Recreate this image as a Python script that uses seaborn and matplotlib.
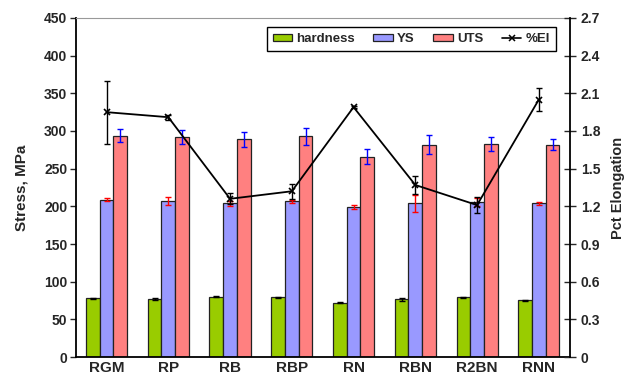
import numpy as np
import pandas as pd
import matplotlib
matplotlib.use("Agg")
import matplotlib.pyplot as plt
import seaborn as sns
from matplotlib.lines import Line2D
from matplotlib.patches import Patch

# Alloy designations
alloys = ["RGM", "RP", "RB", "RBP", "RN", "RBN", "R2BN", "RNN"]

# Mechanical properties (stress axis)
hardness = [78, 77, 80, 79, 72, 76.5, 79, 75.5]
hardness_err = [0.5, 1.5, 0.5, 1, 0.5, 2, 1, 0.5]
ys = [209, 207, 204, 207, 199, 204, 206, 204]
ys_err = [2, 5, 3, 2, 3, 11, 5, 2]
uts = [294, 292, 289, 293, 266, 282, 283, 282]
uts_err = [9, 9, 10, 11, 10, 13, 9, 7]

# Percent elongation (secondary axis)
elong = [1.95, 1.91, 1.26, 1.32, 1.99, 1.37, 1.21, 2.05]
elong_err = [0.25, 0.02, 0.045, 0.06, 0.01, 0.07, 0.065, 0.09]

series_names = ["hardness", "YS", "UTS"]
series_colors = ["#99CC00", "#9999FF", "#FF8080"]
err_colors = ["black", "red", "blue"]

sns.set_style("white")
plt.rcParams["font.family"] = ["Liberation Sans", "DejaVu Sans"]
plt.rcParams["font.weight"] = "bold"

df = pd.DataFrame({
    "alloy": alloys * 3,
    "prop": sum([[n] * len(alloys) for n in series_names], []),
    "value": hardness + ys + uts,
})

fig = plt.figure(figsize=(6.27, 3.87), dpi=100)
ax = fig.add_axes([0.1207, 0.0775, 0.7879, 0.876])

sns.barplot(data=df, x="alloy", y="value", hue="prop", order=alloys,
            hue_order=series_names, palette=series_colors, width=0.666,
            errorbar=None, edgecolor="#222222", linewidth=0.9,
            saturation=1, ax=ax, legend=False)

# error bars centred on each bar
for cont, vals, errs, ec in zip(ax.containers, [hardness, ys, uts],
                                [hardness_err, ys_err, uts_err], err_colors):
    xs = [p.get_x() + p.get_width() / 2 for p in cont.patches]
    ax.errorbar(xs, vals, yerr=errs, fmt="none", ecolor=ec,
                elinewidth=1.0, capsize=2.5, capthick=1.0, zorder=5)

ax.set_ylim(0, 450)
ax.set_yticks(np.arange(0, 451, 50))
ax.set_xlim(-0.5, len(alloys) - 0.5)
ax.set_xlabel("")
ax.set_ylabel("Stress, MPa", fontsize=11, fontweight="bold", labelpad=11)
ax.tick_params(axis="y", direction="out", length=4, width=1, labelsize=10,
               left=True, pad=2)
ax.tick_params(axis="x", direction="out", length=4, width=1, labelsize=11,
               bottom=True, pad=3)
for lab in ax.get_xticklabels() + ax.get_yticklabels():
    lab.set_fontweight("bold")
ax.set_xticks(np.arange(-0.5, len(alloys), 1), minor=True)
ax.tick_params(axis="x", which="major", length=0)
ax.tick_params(axis="x", which="minor", direction="out", length=4, width=1)

for s in ["left", "bottom"]:
    ax.spines[s].set_color("black")
    ax.spines[s].set_linewidth(1.3)
ax.spines["top"].set_color("#999999")
ax.spines["top"].set_linewidth(0.8)
ax.spines["right"].set_visible(False)

# elongation on the secondary axis
ax2 = ax.twinx()
xpos = np.arange(len(alloys))
sns.lineplot(x=xpos, y=elong, ax=ax2, color="black", linewidth=1.3,
             marker="x", markersize=5, markeredgewidth=1.2,
             markeredgecolor="black", legend=False)
ax2.errorbar(xpos, elong, yerr=elong_err, fmt="none", ecolor="black",
             elinewidth=1.0, capsize=2.5, capthick=1.0)
ax2.set_ylim(0, 2.7)
ax2.set_yticks(np.arange(0, 2.71, 0.3))
ax2.set_yticklabels(["0"] + [f"{v:.1f}" for v in np.arange(0.3, 2.71, 0.3)])
ax2.set_ylabel("Pct Elongation", fontsize=10.5, fontweight="bold", labelpad=8)
ax2.tick_params(axis="y", direction="inout", length=8, width=1, labelsize=10,
                right=True, pad=4)
for lab in ax2.get_yticklabels():
    lab.set_fontweight("bold")
ax2.spines["right"].set_color("black")
ax2.spines["right"].set_linewidth(1.3)
for s in ["top", "left", "bottom"]:
    ax2.spines[s].set_visible(False)
ax2.set_xlim(-0.5, len(alloys) - 0.5)

handles = [Patch(facecolor=c, edgecolor="#222222", linewidth=0.9)
           for c in series_colors]
handles.append(Line2D([], [], color="black", linewidth=1.2, marker="x",
                      markersize=4, markeredgewidth=1.1))
leg = ax2.legend(handles, series_names + ["%El"], ncol=4,
                 loc="upper right", bbox_to_anchor=(0.972, 0.974),
                 frameon=True, fancybox=False, edgecolor="black",
                 framealpha=1, prop={"size": 9.5, "weight": "bold"},
                 handlelength=1.5, handleheight=0.45, handletextpad=0.3,
                 columnspacing=1.4, borderpad=0.45, borderaxespad=0)
leg.get_frame().set_linewidth(1.0)

fig.savefig("out.png", dpi=100)
